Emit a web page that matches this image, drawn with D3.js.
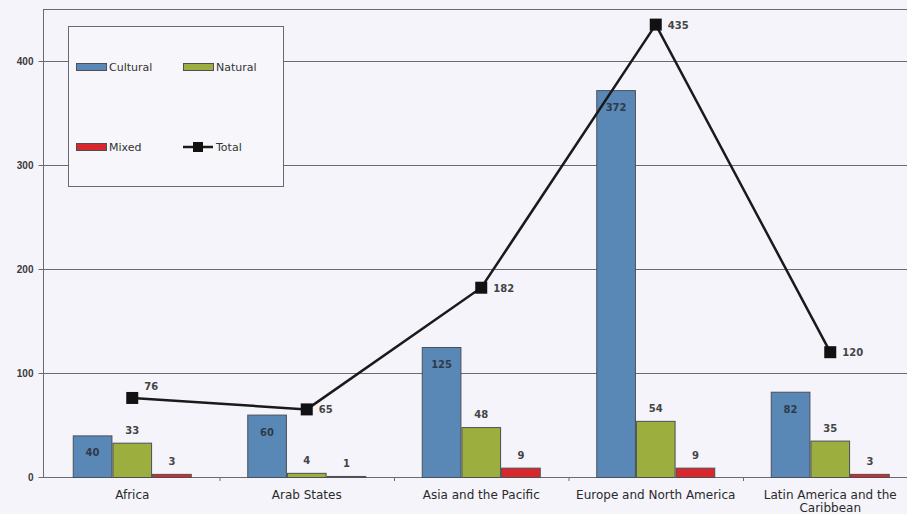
<!DOCTYPE html>
<html>
<head>
<meta charset="utf-8">
<script src="https://cdn.jsdelivr.net/npm/d3@7"></script>
<style>
  html, body { margin: 0; padding: 0; background: #f4f4fa; }
  svg { display: block; font-family: "DejaVu Sans", "Liberation Sans", Arial, sans-serif; }
</style>
</head>
<body>
<svg id="chart" width="907" height="514"></svg>
<script>
// World Heritage properties by region and category
const regions = ["Africa", "Arab States", "Asia and the Pacific", "Europe and North America", "Latin America and the Caribbean"];
const regionLines = [["Africa"], ["Arab States"], ["Asia and the Pacific"], ["Europe and North America"], ["Latin America and the", "Caribbean"]];
const cultural = [40, 60, 125, 372, 82];
const natural = [33, 4, 48, 54, 35];
const mixed = [3, 1, 9, 9, 3];
const total = [76, 65, 182, 435, 120];
const yTicks = [0, 100, 200, 300, 400];
const yMax = 450;
const seriesNames = ["Cultural", "Natural", "Mixed"];
const colors = { Cultural: "#5a88b6", Natural: "#9cae3e", Mixed: "#d8282b" };

const svg = d3.select("#chart");
const W = 907;
const plotLeft = 43, plotTop = 9, plotBottom = 477;

const x = d3.scaleBand().domain(regions).range([45, 45 + 174.5 * regions.length]).padding(0);
const y = d3.scaleLinear().domain([0, yMax]).range([plotBottom, plotTop]);
const sub = d3.scaleBand().domain(seriesNames).range([0, 119]).padding(0);
const groupOffset = (x.bandwidth() - 119) / 2;

// gridlines and the top frame line
svg.append("g").selectAll("line")
  .data(yTicks.filter(d => d > 0).concat([yMax]))
  .join("line")
  .attr("x1", plotLeft).attr("x2", W)
  .attr("y1", d => Math.round(y(d)) + 0.5).attr("y2", d => Math.round(y(d)) + 0.5)
  .attr("stroke", "#6a6a72").attr("stroke-width", 1);

// y axis
const yAxis = d3.axisLeft(y).tickValues(yTicks).tickSize(5).tickPadding(5).tickFormat(d3.format("d"));
const gy = svg.append("g").attr("transform", `translate(${plotLeft + 0.5},0)`).call(yAxis);
gy.select(".domain").attr("stroke", "#6a6a72").attr("d", `M0,${plotTop + 0.5}V${plotBottom + 0.5}`);
gy.selectAll(".tick line").attr("stroke", "#6a6a72");
gy.selectAll(".tick text").attr("fill", "#3a3a3a").attr("font-size", 10).attr("font-weight", "bold");

// x baseline with category separators
svg.append("line").attr("x1", plotLeft).attr("x2", W)
  .attr("y1", plotBottom + 0.5).attr("y2", plotBottom + 0.5)
  .attr("stroke", "#6a6a72").attr("stroke-width", 1);
svg.append("g").selectAll("line")
  .data(regions.slice(1))
  .join("line")
  .attr("x1", d => x(d) + 0.5).attr("x2", d => x(d) + 0.5)
  .attr("y1", plotBottom).attr("y2", plotBottom + 4)
  .attr("stroke", "#6a6a72");

// category labels
const xl = svg.append("g");
regions.forEach((r, i) => {
  const t = xl.append("text")
    .attr("x", x(r) + x.bandwidth() / 2)
    .attr("y", 499)
    .attr("text-anchor", "middle")
    .attr("font-size", 12)
    .attr("fill", "#2a2a2a");
  regionLines[i].forEach((ln, j) => {
    t.append("tspan").attr("x", x(r) + x.bandwidth() / 2).attr("dy", j === 0 ? 0 : 13).text(ln);
  });
});

// bars
const seriesData = { Cultural: cultural, Natural: natural, Mixed: mixed };
const bars = svg.append("g");
seriesNames.forEach(s => {
  bars.selectAll(null)
    .data(regions.map((r, i) => ({ r, v: seriesData[s][i] })))
    .join("rect")
    .attr("x", d => x(d.r) + groupOffset + sub(s) + 0.5)
    .attr("y", d => y(d.v) + 0.5)
    .attr("width", sub.bandwidth() - 1)
    .attr("height", d => Math.max(0, y(0) - y(d.v)))
    .attr("fill", colors[s])
    .attr("stroke", "#4a5058")
    .attr("stroke-width", 1);
});

// bar value labels
const lbl = svg.append("g").attr("font-size", 10).attr("font-weight", "bold").attr("fill", "#444").attr("text-anchor", "middle");
regions.forEach((r, i) => {
  const cx = s => x(r) + groupOffset + sub(s) + sub.bandwidth() / 2;
  lbl.append("text").attr("x", cx("Cultural")).attr("y", y(cultural[i]) + 21).attr("fill", "#2e3a4a").text(cultural[i]);
  lbl.append("text").attr("x", cx("Natural")).attr("y", y(natural[i]) - 9).text(natural[i]);
  lbl.append("text").attr("x", cx("Mixed")).attr("y", y(mixed[i]) - 9).text(mixed[i]);
});

// total line
const cxMid = r => x(r) + x.bandwidth() / 2;
const line = d3.line().x((d, i) => cxMid(regions[i])).y(d => y(d));
svg.append("path").datum(total)
  .attr("d", line)
  .attr("fill", "none")
  .attr("stroke", "#1a1a1a")
  .attr("stroke-width", 2.5);

const ms = 12;
svg.append("g").selectAll("rect")
  .data(total)
  .join("rect")
  .attr("x", (d, i) => cxMid(regions[i]) - ms / 2)
  .attr("y", d => y(d) - ms / 2)
  .attr("width", ms).attr("height", ms)
  .attr("fill", "#111");

// total labels: beside the marker, lifted when the following segment is nearly flat
svg.append("g").selectAll("text")
  .data(total)
  .join("text")
  .attr("x", (d, i) => cxMid(regions[i]) + 12)
  .attr("y", (d, i) => {
    const next = total[i + 1];
    const flat = next !== undefined && Math.abs(y(next) - y(d)) < 30;
    return y(d) + 4 - (flat ? 12 : 0);
  })
  .attr("font-size", 10).attr("font-weight", "bold").attr("fill", "#444")
  .text(d => d);

// legend
const lg = svg.append("g");
lg.append("rect").attr("x", 68.5).attr("y", 26.5).attr("width", 215).attr("height", 160)
  .attr("fill", "#f6f6fb").attr("stroke", "#6a6a72").attr("stroke-width", 1);
const legendItems = [
  { name: "Cultural", kind: "bar", lx: 76, ly: 67 },
  { name: "Natural", kind: "bar", lx: 183, ly: 67 },
  { name: "Mixed", kind: "bar", lx: 76, ly: 147 },
  { name: "Total", kind: "line", lx: 183, ly: 147 }
];
legendItems.forEach(it => {
  if (it.kind === "bar") {
    lg.append("rect").attr("x", it.lx + 0.5).attr("y", it.ly - 3.5).attr("width", 30).attr("height", 7)
      .attr("fill", colors[it.name]).attr("stroke", "#4a5058");
  } else {
    lg.append("line").attr("x1", it.lx).attr("x2", it.lx + 30).attr("y1", it.ly).attr("y2", it.ly)
      .attr("stroke", "#1a1a1a").attr("stroke-width", 2.5);
    lg.append("rect").attr("x", it.lx + 10).attr("y", it.ly - 5).attr("width", 10).attr("height", 10).attr("fill", "#111");
  }
  lg.append("text").attr("x", it.lx + 33).attr("y", it.ly + 4)
    .attr("font-size", 11).attr("fill", "#333").text(it.name);
});
</script>
</body>
</html>
